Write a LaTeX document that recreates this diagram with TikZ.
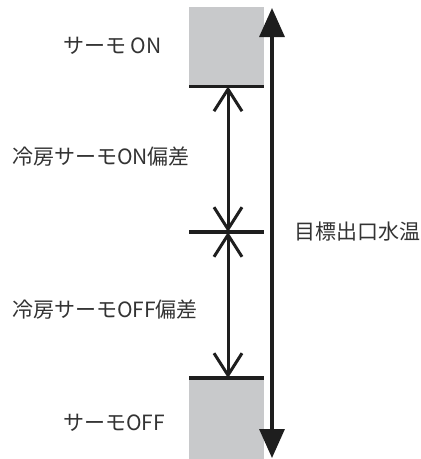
\documentclass[tikz,border=0pt]{standalone}
\usepackage{fontspec}
\setmainfont{Noto Sans CJK JP}
\usetikzlibrary{arrows.meta,positioning}
\definecolor{thermogray}{RGB}{200,201,203}
\definecolor{labelgray}{RGB}{51,51,51}
\definecolor{linedark}{RGB}{30,30,30}

\begin{document}
\begin{tikzpicture}[
    x=1pt, y=-1pt,
    graybox/.style={rectangle, fill=thermogray, minimum width=75pt, minimum height=79pt, inner sep=0pt, anchor=north west},
    lbl/.style={anchor=west, inner sep=0pt, text=labelgray, font=\fontsize{21}{25}\selectfont},
    edge/.style={draw=linedark, line width=3.2pt},
    barb/.style={draw=linedark, line width=3pt, {Straight Barb[length=22pt,width=28pt]}-{Straight Barb[length=22pt,width=28pt]}},
    bigarrow/.style={draw=linedark, line width=3.3pt, {Triangle[length=29pt,width=25pt]}-{Triangle[length=29pt,width=25pt]}},
]
\useasboundingbox (0,0) rectangle (421,459);
% thermo on / off bands
\node[graybox] (onbox) at (189,7) {};
\node[graybox, minimum height=81pt] (offbox) at (189,378) {};
\draw[edge] (onbox.south west) -- (onbox.south east);
\draw[edge] (offbox.north west) -- (offbox.north east);
% set point
\coordinate (setL) at (189,232);
\coordinate (setR) at (264,232);
\coordinate (setpt) at (228,232);
\draw[edge] (setL) -- (setR);
% deviations
\draw[barb] (onbox.south -| setpt) -- (setpt);
\draw[barb] (setpt) -- (offbox.north -| setpt);
% target outlet water temperature
\coordinate (temptop) at (272,8);
\coordinate (tempbot) at (272,458);
\draw[bigarrow] (temptop) -- (tempbot);
\node[lbl, right=22pt of temptop |- setpt] (target) {目標出口水温};
% labels
\node[lbl] (onlbl) at (63,46) {サーモ ON};
\node[lbl] (ondev) at (12,157) {冷房サーモON偏差};
\node[lbl] (offdev) at (12,310) {冷房サーモOFF偏差};
\node[lbl] (offlbl) at (63,423) {サーモOFF};
\end{tikzpicture}
\end{document}
